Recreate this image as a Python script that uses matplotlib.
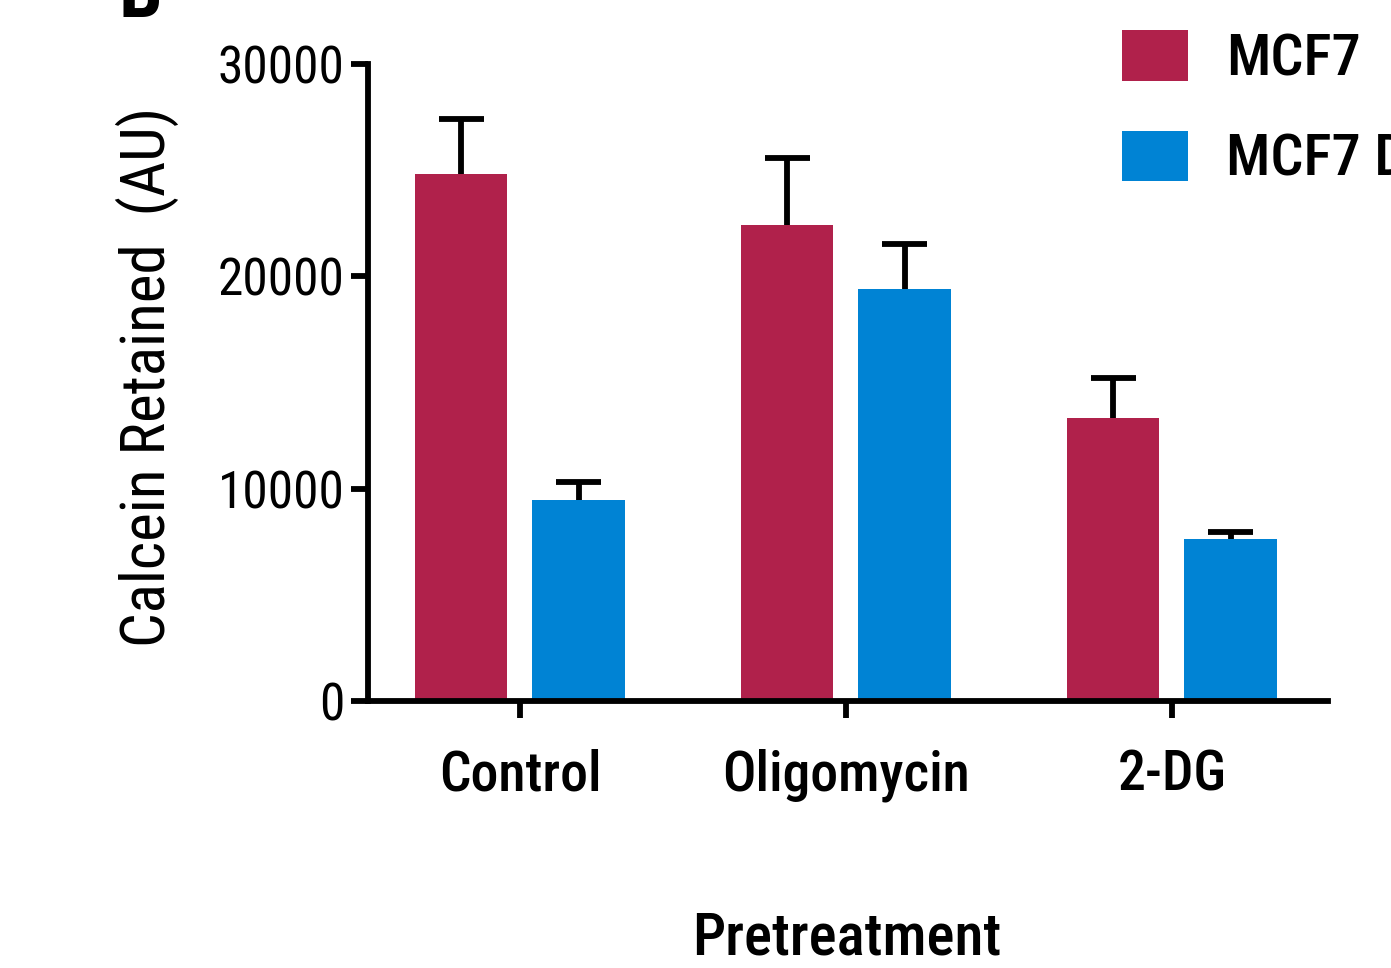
import matplotlib
matplotlib.use("Agg")
import matplotlib.pyplot as plt
import numpy as np

plt.rcParams['font.family'] = ['Roboto Condensed', 'Archivo Narrow', 'DejaVu Sans']
plt.rcParams['font.weight'] = 'medium'

# calcein retention after each pretreatment
groups = ["Control", "Oligomycin", "2-DG"]
series = ["MCF7", "MCF7 Dox"]
mcf7_mean = [24800, 22400, 13350]
mcf7_err = [2600, 3150, 1850]
dox_mean = [9450, 19400, 7650]
dox_err = [850, 2100, 300]
colors = ["#B0214B", "#0083D4"]

fig = plt.figure(figsize=(13.91, 9.68), dpi=100)
ax = fig.add_axes([368/1391, 1 - 701/968, (1328 - 368)/1391, (701 - 64)/968])

x = np.arange(len(groups))
w = 0.283
off = 0.18
lw = 4.2
cap = 0.069

b1 = ax.bar(x - off, mcf7_mean, w, color=colors[0], label=series[0], zorder=2)
b2 = ax.bar(x + off, dox_mean, w, color=colors[1], label=series[1], zorder=2)

# one-sided (upper) error bars
for xs, m, e in [(x - off, mcf7_mean, mcf7_err), (x + off, dox_mean, dox_err)]:
    top = np.array(m) + np.array(e)
    ax.vlines(xs, m, top, color='black', lw=lw, zorder=1)
    ax.hlines(top, xs - cap, xs + cap, color='black', lw=lw, zorder=1)

ax.set_xlim(-0.466, 2.479)
ax.set_ylim(0, 30000)
ax.set_yticks([0, 10000, 20000, 30000])
ax.set_xticks(x)
ax.set_xticklabels(groups)
for s in ['top', 'right']:
    ax.spines[s].set_visible(False)
for s in ['left', 'bottom']:
    ax.spines[s].set_linewidth(lw)
ax.tick_params(axis='both', width=lw, length=12, labelsize=37, direction='out')
ax.tick_params(axis='x', labelsize=40, pad=22)
ax.tick_params(axis='y', pad=5)
for t in ax.get_yticklabels():
    t.set_fontweight('normal')

ax.set_ylabel("Calcein Retained  (AU)", fontsize=44)
ax.yaxis.set_label_coords(-0.197, 0.509)
fig.text(847/1391, 1 - 938/968, "Pretreatment", fontsize=42.5, ha='center', va='center')
fig.text(140/1391, 1 + 4/968, "B", fontsize=56, fontweight='bold', ha='center', va='center')

fig.legend(handles=[b1, b2], loc='upper left', bbox_to_anchor=(1122/1391, 1 - 30/968),
           frameon=False, fontsize=42, handlelength=1.13, handleheight=0.96,
           labelspacing=0.74, handletextpad=0.65, borderpad=0, borderaxespad=0)

fig.savefig("out.png", dpi=100)
